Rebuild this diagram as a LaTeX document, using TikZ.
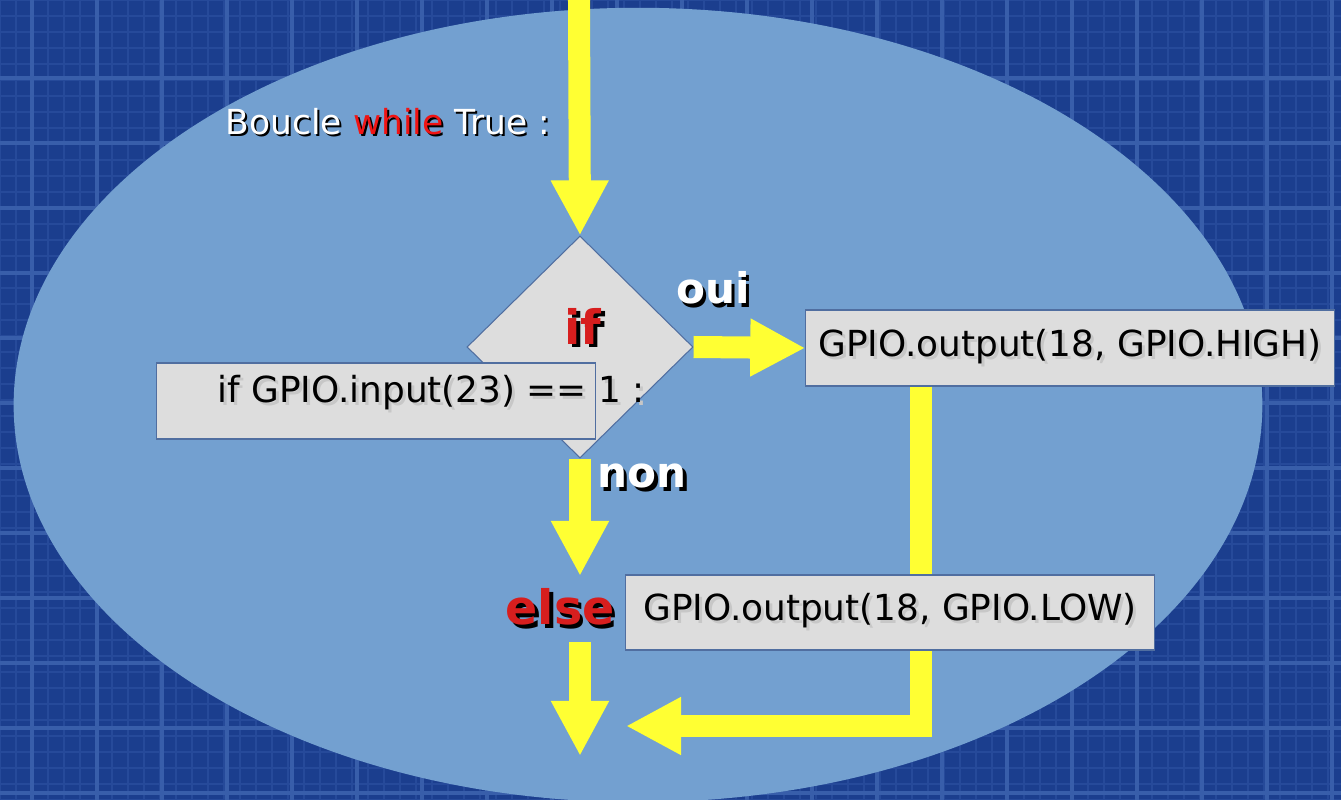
\documentclass[tikz,border=0pt]{standalone}
\usepackage{fontspec}
\setmainfont{DejaVu Sans}
\usetikzlibrary{shapes.geometric,arrows.meta}
\definecolor{bgblue}{RGB}{27,62,142}
\definecolor{gridline}{RGB}{38,74,154}
\definecolor{gridmajor}{RGB}{56,94,170}
\definecolor{ellblue}{RGB}{115,160,208}
\definecolor{boxgray}{RGB}{221,221,221}
\definecolor{boxline}{RGB}{80,110,160}
\definecolor{arryellow}{RGB}{255,255,51}
\definecolor{kwred}{RGB}{215,30,30}
\definecolor{whilered}{RGB}{240,20,20}
\newcommand{\shtext}[3][0.035cm]{\makebox[0pt][l]{\kern#1\raisebox{-#1}{\color{black}#3}}\textcolor{#2}{#3}}
\newcommand{\boxtxt}[1]{\makebox[0pt][l]{\kern0.03cm\raisebox{-0.03cm}{\color{black!22}#1}}#1}
\begin{document}
\begin{tikzpicture}[x=0.01cm,y=-0.01cm,
  yarrow/.style={draw=arryellow,line width=0.22cm,line join=miter,
    -{Triangle[length=0.55cm,width=0.54cm,fill=arryellow]}},
  codebox/.style={rectangle,fill=boxgray,draw=boxline,line width=0.3pt,inner sep=0pt,
    font=\fontsize{10.2pt}{12pt}\selectfont,text=black},
  codetext/.style={font=\fontsize{10.2pt}{12pt}\selectfont,text=black,inner sep=0pt},
  labeltext/.style={font=\bfseries\fontsize{12pt}{14pt}\selectfont,inner sep=0pt},
  kwtext/.style={font=\bfseries\fontsize{13.5pt}{16pt}\selectfont,inner sep=0pt}]
\useasboundingbox (0,0) rectangle (1341,800);
% background
\fill[bgblue] (0,0) rectangle (1341,800);
\foreach \x in {0,16,...,1341} \draw[gridline,line width=0.5pt] (\x,0) -- (\x,800);
\foreach \y in {0,16,...,800} \draw[gridline,line width=0.5pt] (0,\y) -- (1341,\y);
\foreach \x in {32,97,...,1341} \draw[gridmajor,line width=1.2pt] (\x,0) -- (\x,800);
\foreach \y in {78,143,...,800} \draw[gridmajor,line width=1.2pt] (0,\y) -- (1341,\y);
% ellipse
\fill[ellblue] (638,405) ellipse [x radius=6.24cm, y radius=3.97cm];
% title
\node[font=\fontsize{9.8pt}{12pt}\selectfont,inner sep=0pt] (title) at (388,123)
  {\makebox[0pt][l]{\kern0.02cm\raisebox{-0.02cm}{\color{black}Boucle while True :}}\textcolor{white}{Boucle \textcolor{whilered}{while} True :}};
% decision
\node[diamond,aspect=1,minimum width=2.26cm,minimum height=2.22cm,inner sep=0pt,
  fill=boxgray,draw=boxline,line width=0.3pt] (cond) at (580,347) {};
\node[kwtext] (ifkw) at (583,328) {\shtext{kwred}{if}};
\node[codebox,minimum width=4.38cm,minimum height=0.76cm] (condbox) at (376,401) {};
\node[codetext] (condtext) at (431,394) {\boxtxt{if GPIO.input(23) == 1 :}};
% coordinates for free ends
\coordinate (top) at (579,0);
\coordinate (elsetop) at (580,576);
\coordinate (elsebot) at (580,642);
\coordinate (endpt) at (580,756);
\coordinate (retcorner) at (921,726);
\coordinate (rettip) at (626,726);
% high box
\node[codebox,minimum width=5.28cm,minimum height=0.76cm] (high) at (1070,348)
  {\boxtxt{GPIO.output(18, GPIO.HIGH)}};
% arrows
\draw[yarrow] (top) -- (cond.north);
\draw[yarrow] (cond.east) -- (high.west);
\draw[yarrow] (cond.south) -- (elsetop);
\draw[yarrow] (elsebot) -- (endpt);
\draw[yarrow] (high.south -| retcorner) -- (retcorner) -- (rettip);
% low box
\node[codebox,minimum width=5.28cm,minimum height=0.75cm] (low) at (890,612.5)
  {\boxtxt{GPIO.output(18, GPIO.LOW)}};
% labels
\node[labeltext] (oui) at (713,290) {\shtext{white}{oui}};
\node[labeltext] (non) at (642,478) {\shtext{white}{non}};
\node[kwtext] (elsekw) at (560,609) {\shtext{kwred}{else}};
\end{tikzpicture}
\end{document}
